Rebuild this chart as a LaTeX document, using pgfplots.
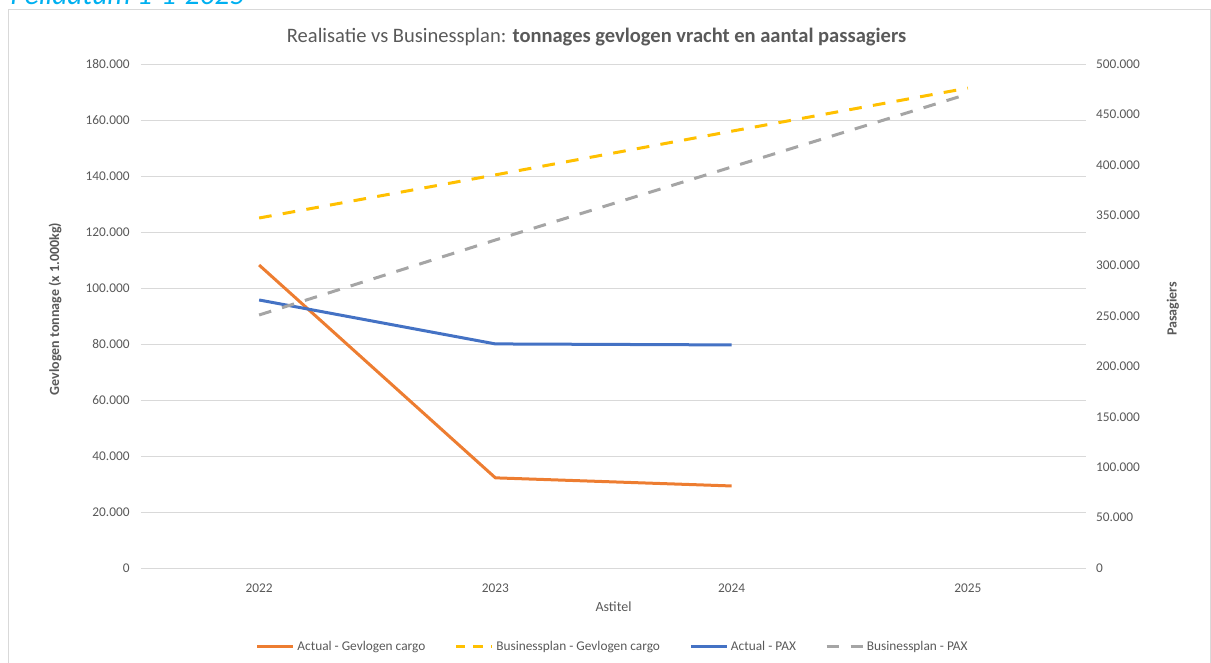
\documentclass[border=0pt]{standalone}
\usepackage{pgfplots}
\pgfplotsset{compat=1.18}
\usepackage{fontspec}
\setmainfont{Carlito}
\definecolor{cOrange}{HTML}{ED7D31}
\definecolor{cYellow}{HTML}{FFC000}
\definecolor{cBlue}{HTML}{4472C4}
\definecolor{cGray}{HTML}{A5A5A5}
\definecolor{txtgray}{HTML}{595959}
\definecolor{gridgray}{HTML}{D9D9D9}
\definecolor{titleblue}{HTML}{00B0F0}
\pgfplotsset{
  commonstyle/.style={
    at={(105.75pt,70.5pt)}, anchor=south west,
    scale only axis, width=708.75pt, height=378pt,
    xmin=-0.5, xmax=3.5,
    axis line style={draw=none},
    major tick length=0pt,
    tick label style={font=\fontsize{10}{12}\selectfont, text=txtgray},
    /pgf/number format/assume math mode=true,
    scaled y ticks=false,
    yticklabel style={/pgf/number format/fixed, /pgf/number format/1000 sep={.}},
  },
  dashstyle/.style={dash pattern=on 9.5pt off 8.5pt},
}
\begin{document}
\begin{tikzpicture}
\useasboundingbox (0,0) rectangle (908.25pt,496.5pt);
\draw[gridgray, line width=0.75pt] (6pt,-10pt) rectangle (907.5pt,489pt);
\node[anchor=base west, font=\fontsize{22}{25}\selectfont\itshape, text=titleblue, inner sep=0pt] at (7.5pt,492.75pt) {Peildatum 1-1-2025};
\node[font=\fontsize{15.4}{18}\selectfont, text=txtgray] at (447.4pt,468.75pt) {Realisatie vs Businessplan: \textbf{tonnages gevlogen vracht en aantal passagiers}};
\begin{axis}[commonstyle,
  ymin=0, ymax=180000,
  xtick={0,1,2,3}, xticklabels={2022,2023,2024,2025},
  xticklabel style={yshift=-8pt},
  ytick={0,20000,...,180000},
  yticklabel style={xshift=-5pt},
  ymajorgrids, grid style={draw=gridgray, line width=0.75pt},
  xlabel={Astitel},
  xlabel style={font=\fontsize{10.5}{12}\selectfont, text=txtgray, at={(axis description cs:0.5,-0.077)}, anchor=center},
  ylabel={\textbf{Gevlogen tonnage (x 1.000kg)}},
  ylabel style={font=\fontsize{10.5}{12}\selectfont, text=txtgray, at={(axis description cs:-0.091,0.514)}, anchor=center},
]
\addplot[cOrange, line width=2.25pt, line join=round] coordinates {(0,108200) (1,32200) (2,29300)};
\addplot[cYellow, line width=2.25pt, dashstyle] coordinates {(0,125000) (1,140400) (2,156000) (3,171400)};
\end{axis}
\begin{axis}[commonstyle,
  ymin=0, ymax=500000,
  hide x axis,
  axis y line*=right,
  ytick={0,50000,...,500000},
  yticklabel style={xshift=4pt},
  ylabel={\textbf{Pasagiers}},
  ylabel style={font=\fontsize{10.5}{12}\selectfont, text=txtgray, at={(axis description cs:1.092,0.514)}, anchor=center},
  legend columns=4,
  legend style={at={(axis description cs:0.4995,-0.1567)}, anchor=center, draw=none, fill=none,
    font=\fontsize{10}{12}\selectfont, text=txtgray,
    /tikz/every even column/.append style={column sep=20pt},
    inner sep=0pt},
  legend image code/.code={\draw[#1] (0pt,0pt) -- (27pt,0pt);},
]
\addlegendimage{cOrange, line width=2.25pt}
\addlegendentry{Actual - Gevlogen cargo}
\addlegendimage{cYellow, line width=2.25pt, dash pattern=on 7pt off 6pt}
\addlegendentry{Businessplan - Gevlogen cargo}
\addplot[cBlue, line width=2.25pt, line join=round] coordinates {(0,265900) (1,222300) (2,221300)};
\addlegendentry{Actual - PAX}
\addplot[cGray, line width=2.25pt, dashstyle] coordinates {(0,251000) (1,325400) (2,397800) (3,470200)};
\addlegendentry{Businessplan - PAX}
\end{axis}
\end{tikzpicture}
\end{document}
